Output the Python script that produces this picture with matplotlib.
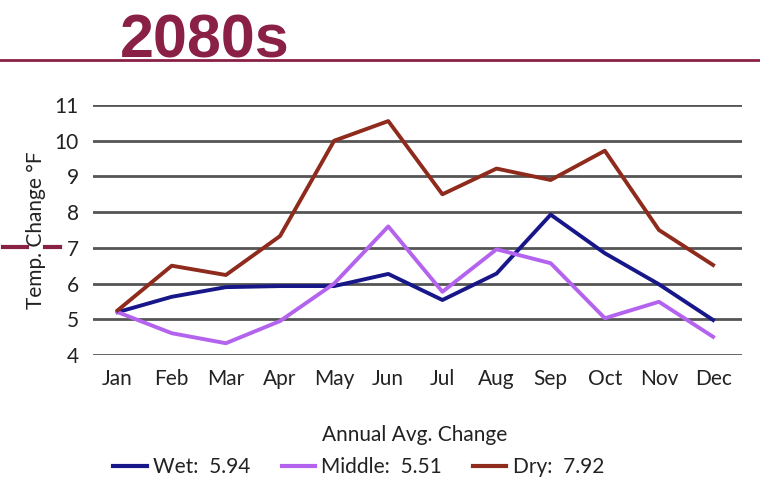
import matplotlib
matplotlib.use('Agg')
import matplotlib.pyplot as plt
from matplotlib.lines import Line2D

months = ['Jan', 'Feb', 'Mar', 'Apr', 'May', 'Jun', 'Jul', 'Aug', 'Sep', 'Oct', 'Nov', 'Dec']
wet = [5.2, 5.63, 5.9, 5.93, 5.93, 6.27, 5.54, 6.28, 7.93, 6.85, 5.98, 4.98]
middle = [5.2, 4.61, 4.33, 4.95, 6.0, 7.6, 5.77, 6.96, 6.57, 5.03, 5.49, 4.51]
dry = [5.25, 6.5, 6.24, 7.33, 10.0, 10.55, 8.5, 9.22, 8.9, 9.72, 7.5, 6.52]
labels = ['Wet:  5.94', 'Middle:  5.51', 'Dry:  7.92']
yticks = [4, 5, 6, 7, 8, 9, 10, 11]

c_wet = '#17178a'
c_mid = '#b463ee'
c_dry = '#8e2b1d'
maroon = '#8a2045'

plt.rcParams['font.family'] = ['Lato', 'DejaVu Sans']

fig = plt.figure(figsize=(7.6, 4.9), dpi=100)
ax = fig.add_axes([0.122, 0.2755, 0.854, 0.5102])

x = list(range(len(months)))
for yv in yticks:
    ax.axhline(yv, color='#555555', lw=2.0, zorder=1)
ax.plot(x, wet, color=c_wet, lw=2.8, zorder=3)
ax.plot(x, middle, color=c_mid, lw=2.8, zorder=3)
ax.plot(x, dry, color=c_dry, lw=2.8, zorder=3)

ax.set_xlim(-0.46, 11.53)
ax.set_ylim(4, 11)
ax.set_yticks(yticks)
ax.set_xticks(x)
ax.set_xticklabels(months)
ax.tick_params(axis='both', length=0, labelsize=15, colors='#222222')
ax.tick_params(axis='y', pad=10)
ax.tick_params(axis='x', pad=10)
for s in ax.spines.values():
    s.set_visible(False)
ax.set_ylabel('Temp. Change °F', fontsize=15, color='#222222', labelpad=6)

# title and rule
fig.text(0.27, 0.915, '2080s', fontsize=44, fontweight='bold', color=maroon,
         family='Liberation Sans', ha='center', va='center')
fig.add_artist(Line2D([0, 1], [0.877, 0.877], color=maroon, lw=2))
fig.add_artist(Line2D([0.004, 0.036], [0.496, 0.496], color=maroon, lw=3))
fig.add_artist(Line2D([0.059, 0.079], [0.496, 0.496], color=maroon, lw=3))

# legend
fig.text(0.545, 0.112, 'Annual Avg. Change', fontsize=15, color='#222222',
         ha='center', va='center')
handles = [Line2D([], [], color=c_wet, lw=3),
           Line2D([], [], color=c_mid, lw=3),
           Line2D([], [], color=c_dry, lw=3)]
leg = fig.legend(handles, labels, loc='center', bbox_to_anchor=(0.472, 0.046),
                 ncol=3, frameon=False, fontsize=15, handlelength=1.6,
                 handletextpad=0.3, columnspacing=1.5)
for t in leg.get_texts():
    t.set_color('#222222')

fig.savefig('out.png', dpi=100)
